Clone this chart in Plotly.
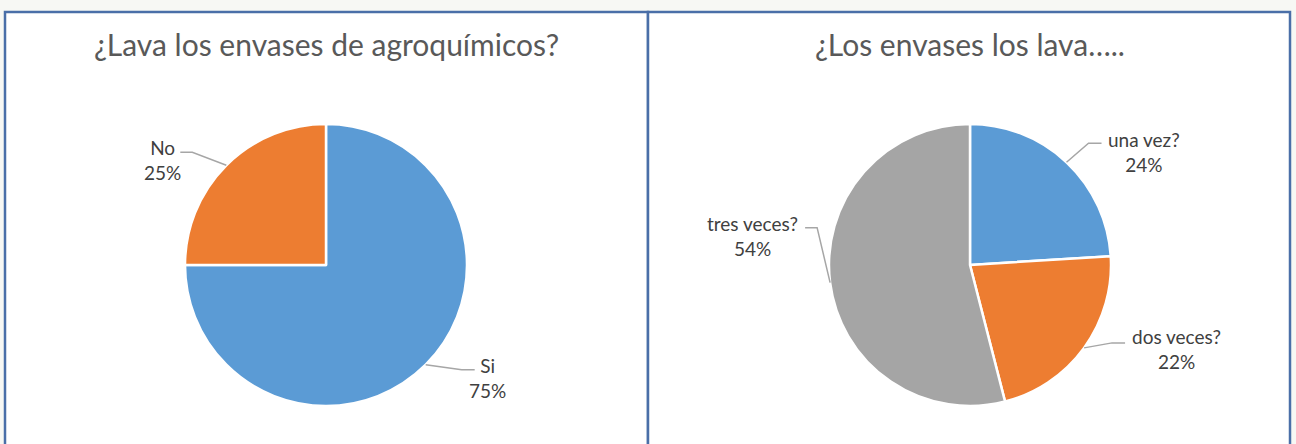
import math
import plotly.graph_objects as go

# ---- data ----
title_left = "¿Lava los envases de agroquímicos?"
labels_left = ["Si", "No"]
values_left = [75, 25]

title_right = "¿Los envases los lava….."
labels_right = ["una vez?", "dos veces?", "tres veces?"]
values_right = [24, 22, 54]

# ---- layout constants (pixels) ----
W, H = 1296, 444
R = 141
CENTERS = [(326, 265), (970, 265)]
COLORS_LEFT = ["#5B9BD5", "#ED7D31"]
COLORS_RIGHT = ["#5B9BD5", "#ED7D31", "#A5A5A5"]
BG = "#F7F8F4"
# label text-centre offsets and leader end offsets from the slice edge point
TEXT_OFF_LEFT = [(62, 13), (-64, -5)]
LINE_OFF_LEFT = [(49, 5), (-46, -13)]
TEXT_OFF_RIGHT = [(77, -10), (92, 1), (-78, -47)]
LINE_OFF_RIGHT = [(35, -19), (41, -5), (-25, -55)]


def px(x):
    return x / W


def py(y):
    return 1 - y / H


fig = go.Figure()
annotations = []
shapes = []

# panel boxes
for x0, x1 in [(5, 648), (648, 1290)]:
    shapes.append(dict(type="rect", xref="paper", yref="paper",
                       x0=px(x0), x1=px(x1), y0=-0.05, y1=py(12),
                       fillcolor="white", line=dict(color="#4A6FA8", width=2.5),
                       layer="below"))

panels = [
    (title_left, labels_left, values_left, COLORS_LEFT, TEXT_OFF_LEFT, LINE_OFF_LEFT),
    (title_right, labels_right, values_right, COLORS_RIGHT, TEXT_OFF_RIGHT, LINE_OFF_RIGHT),
]

for (title, labels, values, colors, toffs, loffs), (cx, cy) in zip(panels, CENTERS):
    fig.add_trace(go.Pie(
        labels=labels, values=values, sort=False, direction="clockwise",
        rotation=0, textinfo="none", hoverinfo="label+percent",
        marker=dict(colors=colors, line=dict(color="white", width=2.5)),
        domain=dict(x=[px(cx - R), px(cx + R)], y=[py(cy + R), py(cy - R)]),
        showlegend=False,
    ))
    annotations.append(dict(
        text=title, x=px(cx), y=py(44), xref="paper", yref="paper",
        xanchor="center", yanchor="middle", showarrow=False,
        font=dict(family="Lato", size=30, color="#595959"),
    ))
    total = sum(values)
    cum = 0
    for lab, v, (tdx, tdy), (ldx, ldy) in zip(labels, values, toffs, loffs):
        mid = (cum + v / 2) / total * 2 * math.pi
        cum += v
        ex = cx + R * math.sin(mid)
        ey = cy - R * math.cos(mid)
        pct = round(v / total * 100)
        annotations.append(dict(
            text=f"{lab}<br>{pct}%", x=px(ex + tdx), y=py(ey + tdy),
            xref="paper", yref="paper", xanchor="center", yanchor="middle",
            align="center", showarrow=False,
            font=dict(family="Lato", size=19, color="#404040"),
        ))
        endx, endy = ex + ldx, ey + ldy
        elbx = endx - 13 if ldx > 0 else endx + 12
        path = (f"M {px(ex)} {py(ey)} L {px(elbx)} {py(endy)} "
                f"L {px(endx)} {py(endy)}")
        shapes.append(dict(type="path", xref="paper", yref="paper", path=path,
                           line=dict(color="#A6A6A6", width=1.5)))

fig.update_layout(
    width=W, height=H,
    margin=dict(l=0, r=0, t=0, b=0),
    paper_bgcolor=BG,
    plot_bgcolor="white",
    annotations=annotations,
    shapes=shapes,
)

fig.write_html(
    "out.html",
    config={"displayModeBar": False},
    post_script=("document.body.style.margin='0';"
                 "document.body.style.overflow='hidden';"
                 f"document.body.style.background='{BG}';"),
)
